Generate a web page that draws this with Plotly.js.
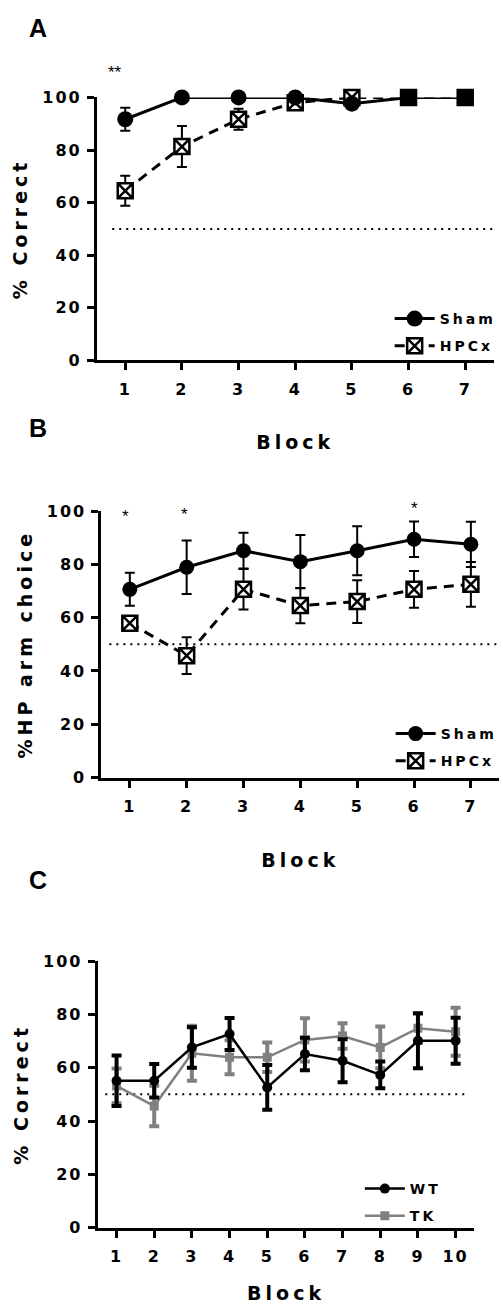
<!DOCTYPE html>
<html>
<head>
<meta charset="utf-8">
<script src="https://cdn.plot.ly/plotly-3.0.1.min.js"></script>
<style>
  html, body { margin: 0; padding: 0; background: #fff; }
  #chart { width: 503px; height: 1304px; }
  .xtick text, .x2tick text, .x3tick text,
  .ytick text, .y2tick text, .y3tick text { letter-spacing: 2px; }
  .xtitle, .x2title, .x3title, .ytitle, .y2title, .y3title { letter-spacing: 4px; }
  text.legendtext, text.legend2text, text.legend3text { letter-spacing: 3px !important; }
</style>
</head>
<body>
<div id="chart"></div>
<script>
// ---------- Data ----------
const blocksAB = [1, 2, 3, 4, 5, 6, 7];
const blocksC = [1, 2, 3, 4, 5, 6, 7, 8, 9, 10];

const shamA    = [91.7, 100, 100, 100, 97.6, 100, 100];
const shamAErr = [4.4, 0, 0, 0, 0, 0, 0];
const hpcxA    = [64.5, 81.3, 91.7, 98.0, 100, 100, 100];
const hpcxAErr = [5.7, 7.8, 4.0, 1.5, 0, 0, 0];

const shamB    = [70.6, 78.9, 85.1, 81.0, 85.1, 89.4, 87.5];
const shamBErr = [6.2, 10.0, 6.7, 10.0, 9.2, 6.7, 8.5];
const hpcxB    = [57.9, 45.7, 70.6, 64.5, 66.0, 70.6, 72.5];
const hpcxBErr = [2.0, 6.9, 7.6, 6.6, 8.0, 6.9, 8.4];

const wtC    = [55.1, 55.1, 67.6, 72.6, 52.6, 65.1, 62.6, 57.3, 70.1, 70.1];
const wtCErr = [9.5, 6.3, 7.6, 6.0, 8.4, 6.1, 8.1, 5.0, 10.3, 8.6];
const tkC    = [53.2, 45.6, 65.4, 63.9, 63.9, 70.4, 71.9, 67.6, 74.8, 73.5];
const tkCErr = [6.5, 7.6, 10.3, 6.4, 5.5, 8.1, 4.8, 7.8, 5.5, 9.0];

const yTicks = [0, 20, 40, 60, 80, 100];
const chance = 50;
const groupNamesAB = ['Sham', 'HPCx'];
const groupNamesC = ['WT', 'TK'];
const panelLetters = ['A', 'B', 'C'];
// significance marks: block, height (% of axis), label
const sigA = [{x: 1, y: 110.8, t: '**'}];
const sigB = [{x: 1, y: 99.4, t: '*'}, {x: 2, y: 100.0, t: '*'}, {x: 6, y: 102.1, t: '*'}];

// ---------- Styling helpers ----------
const H = 1304, W = 503;
const TXT = 'DejaVu Sans, Arial, sans-serif';
const GREY = '#808080';
const py = p => 1 - p / H;
const px = p => p / W;

function xAxis(domain, n, anchor) {
  const vals = []; for (let i = 1; i <= n; i++) vals.push(i);
  return {
    domain: domain, anchor: anchor, range: [0.5, n + 0.5],
    tickvals: vals, ticktext: vals.map(String),
    showline: true, linewidth: 3, linecolor: '#000',
    ticks: 'outside', ticklen: 7, tickwidth: 3, tickcolor: '#000',
    showgrid: false, zeroline: false, fixedrange: true,
    tickfont: {family: TXT, size: 16, color: '#000', weight: 'bold'},
    ticklabelstandoff: 5,
    title: {text: 'Block', font: {family: TXT, size: 19, color: '#000', weight: 'bold'}, standoff: 39},
    automargin: false
  };
}
function yAxis(domain, anchor, title) {
  return {
    domain: domain, anchor: anchor, range: [0, 100],
    tickvals: yTicks,
    showline: true, linewidth: 3, linecolor: '#000',
    ticks: 'outside', ticklen: 7, tickwidth: 3, tickcolor: '#000',
    showgrid: false, zeroline: false, fixedrange: true,
    tickfont: {family: TXT, size: 16, color: '#000', weight: 'bold'},
    ticklabelstandoff: 2,
    title: {text: title, font: {family: TXT, size: 19, color: '#000', weight: 'bold'}, standoff: 10},
    automargin: false
  };
}

const traces = [];
// Panel A
traces.push({
  x: blocksAB, y: hpcxA, name: groupNamesAB[1], xaxis: 'x', yaxis: 'y', legend: 'legend', legendrank: 2,
  legendgroup: 'a2', type: 'scatter', mode: 'lines+markers', cliponaxis: false,
  line: {color: '#000', width: 3, dash: '10px,7px'},
  marker: {symbol: 'square-x', size: 15, color: '#fff', line: {color: '#000', width: 2.5}},
  error_y: {type: 'data', array: hpcxAErr, visible: true, color: '#000', thickness: 2, width: 5}
});
traces.push({
  x: blocksAB, y: shamA, name: groupNamesAB[0], xaxis: 'x', yaxis: 'y', legend: 'legend', legendrank: 1,
  legendgroup: 'a1', type: 'scatter', mode: 'lines+markers', cliponaxis: false,
  line: {color: '#000', width: 3},
  marker: {symbol: 'circle', size: 16, color: '#000'},
  error_y: {type: 'data', array: shamAErr, visible: true, color: '#000', thickness: 2, width: 5}
});
// Panel B
traces.push({
  x: blocksAB, y: hpcxB, name: groupNamesAB[1], xaxis: 'x2', yaxis: 'y2', legend: 'legend2', legendrank: 2,
  legendgroup: 'b2', type: 'scatter', mode: 'lines+markers', cliponaxis: false,
  line: {color: '#000', width: 3, dash: '10px,7px'},
  marker: {symbol: 'square-x', size: 15, color: '#fff', line: {color: '#000', width: 2.5}},
  error_y: {type: 'data', array: hpcxBErr, visible: true, color: '#000', thickness: 2, width: 5}
});
traces.push({
  x: blocksAB, y: shamB, name: groupNamesAB[0], xaxis: 'x2', yaxis: 'y2', legend: 'legend2', legendrank: 1,
  legendgroup: 'b1', type: 'scatter', mode: 'lines+markers', cliponaxis: false,
  line: {color: '#000', width: 3},
  marker: {symbol: 'circle', size: 15, color: '#000'},
  error_y: {type: 'data', array: shamBErr, visible: true, color: '#000', thickness: 2, width: 5}
});
// Panel C
traces.push({
  x: blocksC, y: tkC, name: groupNamesC[1], xaxis: 'x3', yaxis: 'y3', legend: 'legend3', legendrank: 2,
  legendgroup: 'c2', type: 'scatter', mode: 'lines+markers', cliponaxis: false,
  line: {color: GREY, width: 2.5},
  marker: {symbol: 'square', size: 9, color: GREY},
  error_y: {type: 'data', array: tkCErr, visible: true, color: GREY, thickness: 4, width: 5}
});
traces.push({
  x: blocksC, y: wtC, name: groupNamesC[0], xaxis: 'x3', yaxis: 'y3', legend: 'legend3', legendrank: 1,
  legendgroup: 'c1', type: 'scatter', mode: 'lines+markers', cliponaxis: false,
  line: {color: '#000', width: 2.5},
  marker: {symbol: 'circle', size: 10, color: '#000'},
  error_y: {type: 'data', array: wtCErr, visible: true, color: '#000', thickness: 4, width: 5}
});

function legendBox(xPix, yTopPix) {
  return {
    x: px(xPix), y: py(yTopPix), xanchor: 'left', yanchor: 'top',
    bgcolor: 'rgba(0,0,0,0)', borderwidth: 0, itemwidth: 40, tracegroupgap: 6,
    font: {family: TXT, size: 14, color: '#000', weight: 'bold'},
    itemclick: false, itemdoubleclick: false
  };
}

const annotations = [];
const letterY = [27.5, 427.5, 880];
panelLetters.forEach((L, i) => annotations.push({
  xref: 'paper', yref: 'paper', x: px(38), y: py(letterY[i]), text: L, showarrow: false,
  xanchor: 'center', yanchor: 'middle',
  font: {family: 'Liberation Sans, Arial, sans-serif', size: 25, color: '#000', weight: 'bold'}
}));
const starFont = {family: 'Liberation Sans, Arial, sans-serif', size: 17, color: '#000'};
const shiftA = [-10];
const shiftB = [-4, -2, 0];
sigA.forEach((s, i) => annotations.push({xref: 'x', yref: 'y domain', x: s.x, y: s.y / 100, text: s.t,
  showarrow: false, xshift: shiftA[i], yshift: 8, font: starFont}));
sigB.forEach((s, i) => annotations.push({xref: 'x2', yref: 'y2 domain', x: s.x, y: s.y / 100, text: s.t,
  showarrow: false, xshift: shiftB[i], yshift: 8, font: starFont}));

const dotLine = {color: '#000', width: 2, dash: '2px,5px'};
const shapes = [
  {type: 'line', xref: 'x', yref: 'y', x0: 0.77, x1: 7.5, y0: chance, y1: chance, line: dotLine, layer: 'below'},
  {type: 'line', xref: 'x2', yref: 'y2', x0: 0.64, x1: 7.5, y0: chance, y1: chance, line: dotLine, layer: 'below'},
  {type: 'line', xref: 'x3', yref: 'y3', x0: 0.7, x1: 10.3, y0: chance, y1: chance, line: dotLine, layer: 'below'}
];

const layout = {
  width: W, height: H,
  margin: {l: 0, r: 0, t: 0, b: 0},
  paper_bgcolor: '#fff', plot_bgcolor: '#fff',
  font: {family: TXT, color: '#000'},
  showlegend: true,
  xaxis:  xAxis([px(97.5), px(496.5)], 7, 'y'),
  yaxis:  yAxis([py(360.4), py(97.4)], 'x', '% Correct'),
  xaxis2: xAxis([px(102), px(502.3)], 7, 'y2'),
  yaxis2: yAxis([py(777.5), py(511)], 'x2', '%HP arm choice'),
  xaxis3: xAxis([px(98.3), px(477.3)], 10, 'y3'),
  yaxis3: yAxis([py(1227.7), py(961)], 'x3', '% Correct'),
  legend:  legendBox(392, 303),
  legend2: legendBox(393, 718),
  legend3: legendBox(362, 1173),
  annotations: annotations,
  shapes: shapes
};

Plotly.newPlot('chart', traces, layout, {displayModeBar: false, staticPlot: true});
</script>
</body>
</html>
